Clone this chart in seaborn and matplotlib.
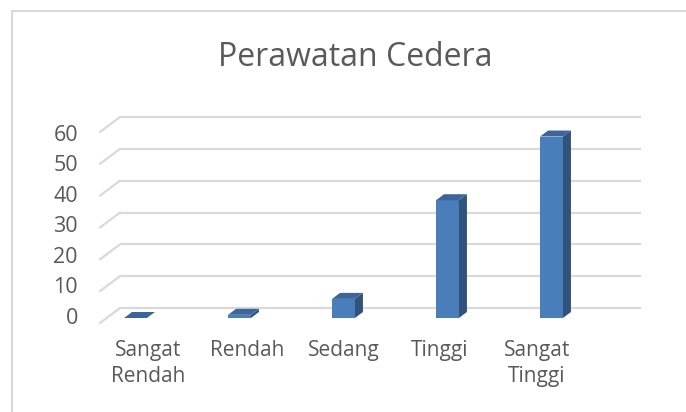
import matplotlib
matplotlib.use("Agg")
import matplotlib.pyplot as plt
import matplotlib.transforms as mtransforms
from matplotlib.patches import Polygon
import seaborn as sns
import pandas as pd

categories = ["Sangat\nRendah", "Rendah", "Sedang", "Tinggi", "Sangat\nTinggi"]
values = [0, 1, 6, 37, 57]
yticks = [0, 10, 20, 30, 40, 50, 60]
title = "Perawatan Cedera"

sns.set_theme(style="white")
plt.rcParams['font.family'] = ['Open Sans', 'DejaVu Sans']

W, H = 686, 412
fig = plt.figure(figsize=(W / 100, H / 100), dpi=100)
fig.patch.set_facecolor("white")

left_px, right_px = 83.5, 603.5
y0_px, y60_px = 318, 127
ax = fig.add_axes([left_px / W, (H - y0_px) / H, (right_px - left_px) / W, (y0_px - y60_px) / H])

df = pd.DataFrame({"cat": categories, "val": values})
front = "#4A7EBB"
side = "#30527C"
top = "#3C659A"
sns.barplot(data=df, x="cat", y="val", color=front, width=0.22, saturation=1, ax=ax, zorder=3)
ax.set_xlim(-0.5, 4.5)
ax.set_ylim(0, 60)

def off(dx, dy):
    return mtransforms.ScaledTranslation(dx / 100, dy / 100, fig.dpi_scale_trans)

grid_c = "#D9D9D9"
blend = mtransforms.blended_transform_factory(ax.transAxes, ax.transData)
xb0 = (120 - left_px) / (right_px - left_px)
xb1 = (641 - left_px) / (right_px - left_px)
xf = (100 - left_px) / (right_px - left_px)
for v in yticks:
    ax.plot([xb0, xb1], [v, v], transform=blend + off(0, 10), color=grid_c, lw=1.6,
            zorder=1, clip_on=False, solid_capstyle="butt")
    p_front = (blend + off(0, -5)).transform((xf, v))
    p_back = (blend + off(0, 10)).transform((xb0, v))
    ax.plot([p_front[0], p_back[0]], [p_front[1], p_back[1]], transform=None,
            color=grid_c, lw=1.6, zorder=1, clip_on=False)

# 3D faces derived from the bar patches
dx, dy = 8, 6
for p in ax.patches:
    x0 = p.get_x()
    x1 = x0 + p.get_width()
    h = p.get_height()
    t = ax.transData
    bl = t.transform((x0, 0)); br = t.transform((x1, 0))
    tl = t.transform((x0, h)); tr = t.transform((x1, h))
    side_poly = Polygon([br, tr, (tr[0] + dx, tr[1] + dy), (br[0] + dx, br[1] + dy)],
                        closed=True, transform=None, facecolor=side, edgecolor="none", zorder=4)
    top_poly = Polygon([tl, tr, (tr[0] + dx, tr[1] + dy), (tl[0] + dx, tl[1] + dy)],
                       closed=True, transform=None, facecolor=top, edgecolor="none", zorder=4)
    ax.add_artist(side_poly)
    ax.add_artist(top_poly)
    p.set_edgecolor("none")

ax.set_yticks(yticks)
ax.set_yticklabels([str(v) for v in yticks])
ax.tick_params(axis="y", length=0, pad=4, labelsize=15.5, labelcolor="#595959")
ax.tick_params(axis="x", length=0, pad=16, labelsize=15, labelcolor="#595959")
ax.set_xlabel("")
ax.set_ylabel("")
for s in ax.spines.values():
    s.set_visible(False)
ax.patch.set_alpha(0)

# perspective shifts of the tick labels
for i, lab in enumerate(ax.get_yticklabels()):
    frac = i / (len(yticks) - 1)
    lab.set_transform(lab.get_transform() + off(0, 2.5 - 8.5 * frac))
x_shift = [12.5, 7.5, 0, -7.5, -14.5]
for lab, s in zip(ax.get_xticklabels(), x_shift):
    lab.set_transform(lab.get_transform() + off(s, 0))
    lab.set_linespacing(1.3)

fig.text(355 / W, 1 - 57 / H, title, ha="center", va="center", fontsize=23, color="#595959")

fig.add_artist(plt.Line2D([12 / W, 12 / W], [0, 1 - 11 / H], transform=fig.transFigure, color="#D9D9D9", lw=1.5))
fig.add_artist(plt.Line2D([12 / W, 1], [1 - 11 / H, 1 - 11 / H], transform=fig.transFigure, color="#D9D9D9", lw=1.5))

fig.savefig("out.png", dpi=100)
